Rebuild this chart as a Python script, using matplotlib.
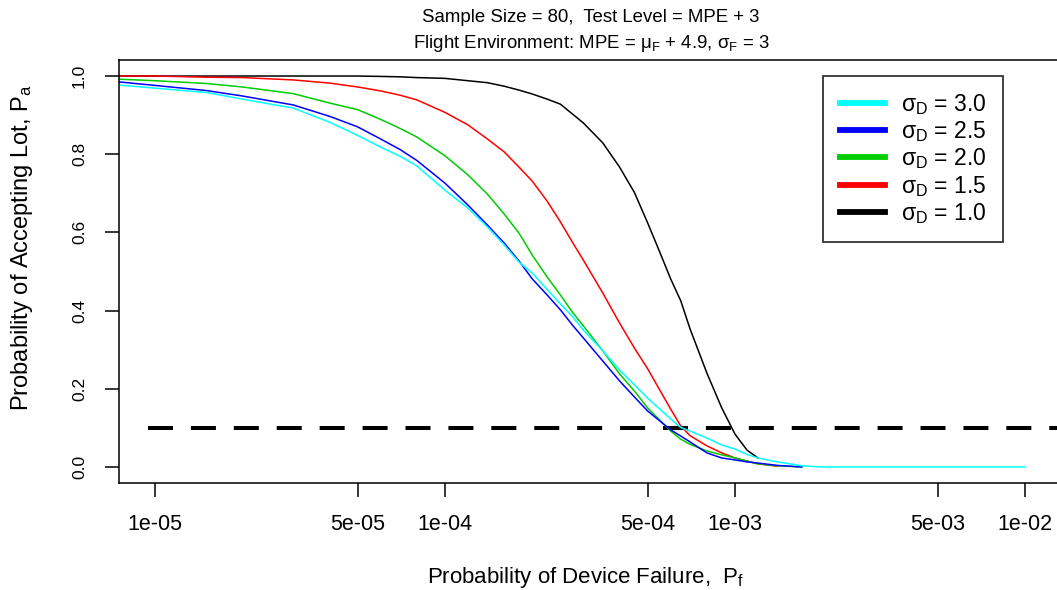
import matplotlib
matplotlib.use("Agg")
import matplotlib.pyplot as plt
import numpy as np

plt.rcParams['font.family'] = ['Liberation Sans', 'DejaVu Sans']
plt.rcParams['mathtext.fontset'] = 'custom'
plt.rcParams['mathtext.rm'] = 'Liberation Sans'
plt.rcParams['mathtext.it'] = 'Liberation Sans'
plt.rcParams['mathtext.default'] = 'regular'
plt.rcParams['lines.scale_dashes'] = False

# probability of device failure (shared grid, each curve uses the first n points)
pf = [7.5e-6, 1e-5, 1.5e-5, 2e-5, 3e-5, 4e-5, 5e-5, 6e-5, 7e-5, 8e-5,
      1e-4, 1.2e-4, 1.4e-4, 1.6e-4, 1.8e-4, 2e-4, 2.25e-4, 2.5e-4, 2.75e-4, 3e-4,
      3.5e-4, 4e-4, 4.5e-4, 5e-4, 5.5e-4, 6e-4, 6.5e-4, 7e-4, 8e-4, 9e-4,
      1e-3, 1.1e-3, 1.2e-3, 1.4e-3, 1.7e-3, 2e-3, 3e-3, 5e-3, 1e-2]

pa_sd10 = [1.0, 1.0, 1.0, 1.0, 1.0, 1.0, 1.0, 0.999, 0.998, 0.996,
           0.994, 0.988, 0.983, 0.974, 0.964, 0.954, 0.941, 0.928, 0.903, 0.880,
           0.829, 0.767, 0.702, 0.624, 0.550, 0.481, 0.425, 0.353, 0.240, 0.151,
           0.084, 0.043, 0.023]
pa_sd15 = [1.0, 1.0, 0.997, 0.996, 0.990, 0.982, 0.972, 0.962, 0.951, 0.939,
           0.907, 0.875, 0.839, 0.806, 0.767, 0.731, 0.680, 0.627, 0.575, 0.529,
           0.445, 0.368, 0.304, 0.251, 0.197, 0.148, 0.105, 0.080, 0.054, 0.036,
           0.023, 0.015, 0.008, 0.002]
pa_sd20 = [0.992, 0.988, 0.981, 0.972, 0.955, 0.931, 0.914, 0.889, 0.866, 0.844,
           0.796, 0.747, 0.698, 0.647, 0.598, 0.542, 0.486, 0.440, 0.396, 0.361,
           0.297, 0.238, 0.194, 0.151, 0.120, 0.092, 0.071, 0.058, 0.041, 0.031,
           0.023, 0.015, 0.008, 0.003, 0.0]
pa_sd25 = [0.985, 0.976, 0.963, 0.949, 0.926, 0.897, 0.870, 0.839, 0.812, 0.784,
           0.726, 0.670, 0.619, 0.573, 0.527, 0.481, 0.440, 0.402, 0.363, 0.330,
           0.271, 0.220, 0.179, 0.143, 0.118, 0.095, 0.079, 0.064, 0.036, 0.023,
           0.018, 0.013, 0.010, 0.004, 0.0]
pa_sd30 = [0.977, 0.969, 0.958, 0.941, 0.918, 0.882, 0.848, 0.818, 0.795, 0.770,
           0.708, 0.662, 0.614, 0.568, 0.524, 0.496, 0.454, 0.417, 0.385, 0.350,
           0.297, 0.248, 0.210, 0.176, 0.148, 0.123, 0.101, 0.092, 0.074, 0.056,
           0.046, 0.032, 0.023, 0.013, 0.003, 0.0, 0.0, 0.0, 0.0]

# drawing order: sigma_D = 1.0 first, 3.0 last
curves = [pa_sd10, pa_sd15, pa_sd20, pa_sd25, pa_sd30]
labels = ["1.0", "1.5", "2.0", "2.5", "3.0"]
colors = ["black", "#FF0000", "#00CD00", "#0000FF", "#00FFFF"]

threshold = 0.1
threshold_x = [9.5e-6, 2e-2]

xticks = [1e-5, 5e-5, 1e-4, 5e-4, 1e-3, 5e-3, 1e-2]
xticklabels = ["1e-05", "5e-05", "1e-04", "5e-04", "1e-03", "5e-03", "1e-02"]
yticks = [0.0, 0.2, 0.4, 0.6, 0.8, 1.0]

W, H = 1057, 590
fig = plt.figure(figsize=(W / 100, H / 100), dpi=100)
ax = fig.add_axes([119 / W, 1 - 483 / H, 942 / W, 423 / H])

ax.hlines(threshold, threshold_x[0], threshold_x[1], colors="black",
          linewidth=2.9, linestyles=(0, (18, 12.9)), zorder=1)

lines = {}
for vals, lab, col in zip(curves, labels, colors):
    ln, = ax.plot(pf[:len(vals)], vals, color=col, linewidth=1.1, zorder=2,
                  label=r"$\sigma_D$ = " + lab)
    lines[lab] = ln

ax.set_xscale("log")
ax.set_xlim(7.52e-6, 1.33e-2)
ax.set_ylim(-0.041, 1.041)
ax.set_xticks(xticks)
ax.set_xticklabels(xticklabels)
ax.minorticks_off()
ax.set_yticks(yticks)
ax.set_yticklabels(["%.1f" % v for v in yticks])
plt.setp(ax.get_yticklabels(), rotation=90, va="center")
ax.tick_params(axis="both", length=10, width=1.1, color="black")
ax.tick_params(axis="x", pad=12, labelsize=15.5)
ax.tick_params(axis="y", pad=13, labelsize=12.5)
for s in ax.spines.values():
    s.set_linewidth(1.1)

fig.text(591 / W, 1 - 17 / H, "Sample Size = 80,  Test Level = MPE + 3",
         ha="center", va="center", fontsize=13.4)
fig.text(591 / W, 1 - 44 / H, r"Flight Environment: MPE = $\mu_F$ + 4.9, $\sigma_F$ = 3",
         ha="center", va="center", fontsize=13.4)
fig.text(585 / W, 1 - 577 / H, r"Probability of Device Failure,  $P_f$",
         ha="center", va="center", fontsize=16)
fig.text(22 / W, 1 - 248 / H, r"Probability of Accepting Lot, $P_a$",
         ha="center", va="center", fontsize=17, rotation=90)

order = ["3.0", "2.5", "2.0", "1.5", "1.0"]
leg = ax.legend([lines[k] for k in order], [lines[k].get_label() for k in order],
                loc="upper right", bbox_to_anchor=(1003 / W, 1 - 76 / H),
                bbox_transform=fig.transFigure, fontsize=16.5, frameon=True,
                fancybox=False, edgecolor="black", borderpad=0.7,
                labelspacing=0.1, handlelength=2.0, handletextpad=0.7,
                borderaxespad=0)
leg.get_frame().set_linewidth(1.3)
for l in leg.get_lines():
    l.set_linewidth(4.2)

fig.savefig("out.png", dpi=100)
